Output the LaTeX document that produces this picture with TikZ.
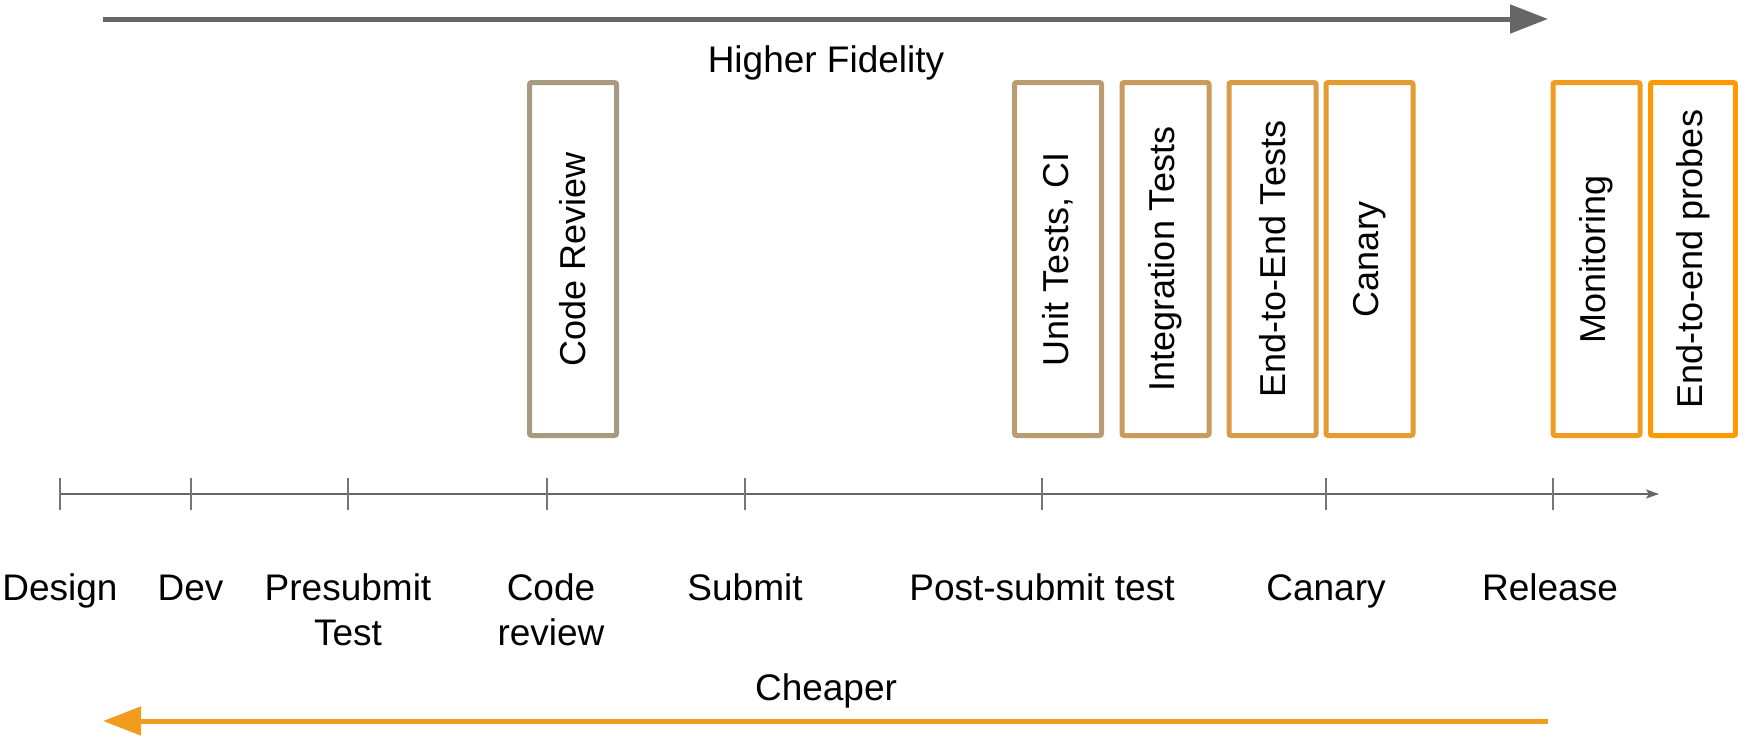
\documentclass[tikz,border=0pt]{standalone}
\usepackage{fontspec}
\setmainfont{Liberation Sans}
\usetikzlibrary{arrows.meta}

\definecolor{axisgray}{HTML}{666666}
\definecolor{tickgray}{HTML}{757575}
\definecolor{bigorange}{HTML}{F09C1E}
\definecolor{cReview}{HTML}{A89A80}
\definecolor{cUnit}{HTML}{BB9B70}
\definecolor{cInteg}{HTML}{C99B5C}
\definecolor{cEtoE}{HTML}{D89C45}
\definecolor{cCanary}{HTML}{E49C30}
\definecolor{cMonitor}{HTML}{EF9D20}
\definecolor{cProbes}{HTML}{FF9900}

\tikzset{
  stagebox/.style={draw=#1, line width=5pt, rounded corners=2pt, fill=white,
    rotate=90, minimum width=353pt, minimum height=87pt, inner sep=0pt,
    font=\fontsize{36}{43}\selectfont},
  phase/.style={anchor=north, inner sep=0pt, align=center,
    font=\fontsize{37}{45.5}\selectfont,
    execute at begin node={\vphantom{bd}}},
  caption/.style={anchor=base, inner sep=0pt, font=\fontsize{37}{45}\selectfont},
  bigarrow/.style={line width=5pt, -{Triangle[length=38pt, width=28pt]}},
  tick/.style={draw=tickgray, line width=2pt},
}

\begin{document}
\begin{tikzpicture}[x=1pt, y=-1pt]
\useasboundingbox (0,0) rectangle (1738,736);

% fidelity arrow
\coordinate (fidL) at (103,19);
\coordinate (fidR) at (1548,19);
\draw[bigarrow, draw=axisgray, fill=axisgray] (fidL) -- (fidR);
\node[caption] (fidelity) at (826,72) {Higher Fidelity};

% verification stages
\node[stagebox=cReview]  (review)  at (573,259)    {Code Review};
\node[stagebox=cUnit]    (unit)    at (1058,259)   {Unit Tests, CI};
\node[stagebox=cInteg]   (integ)   at (1165.5,259) {Integration Tests};
\node[stagebox=cEtoE]    (etoe)    at (1272.5,259) {End-to-End Tests};
\node[stagebox=cCanary]  (canbox)  at (1369.5,259) {Canary};
\node[stagebox=cMonitor] (monitor) at (1596.5,259) {Monitoring};
\node[stagebox=cProbes, minimum height=85pt] (probes) at (1693,259) {End-to-end probes};

% timeline
\coordinate (axL) at (59,494);
\coordinate (axR) at (1659,494);
\draw[draw=axisgray, line width=2pt, -{Stealth[length=13pt, width=9pt, inset=3pt]}] (axL) -- (axR);
\foreach \x/\n in {60/tDesign, 190.5/tDev, 348/tPre, 546.5/tCode, 745/tSubmit,
                   1042/tPost, 1325.5/tCanary, 1553/tRelease} {
  \coordinate (\n) at (\x,494);
  \draw[tick] ([yshift=16pt]\n) -- ([yshift=-16pt]\n);
}

% phase labels
\node[phase] (lDesign)  at (60,573)   {Design};
\node[phase] (lDev)     at (190.5,573) {Dev};
\node[phase] (lPre)     at (348,573)  {Presubmit\\Test};
\node[phase] (lCode)    at (551,573)  {Code\\review};
\node[phase] (lSubmit)  at (745,573)  {Submit};
\node[phase] (lPost)    at (1042,573) {Post-submit test};
\node[phase] (lCanary)  at (1326,573) {Canary};
\node[phase] (lRelease) at (1550,573) {Release};

% cost arrow
\node[caption] (cheaper) at (826,700) {Cheaper};
\coordinate (costR) at (1548,721);
\coordinate (costL) at (103,721);
\draw[bigarrow, draw=bigorange, fill=bigorange] (costR) -- (costL);
\end{tikzpicture}
\end{document}
